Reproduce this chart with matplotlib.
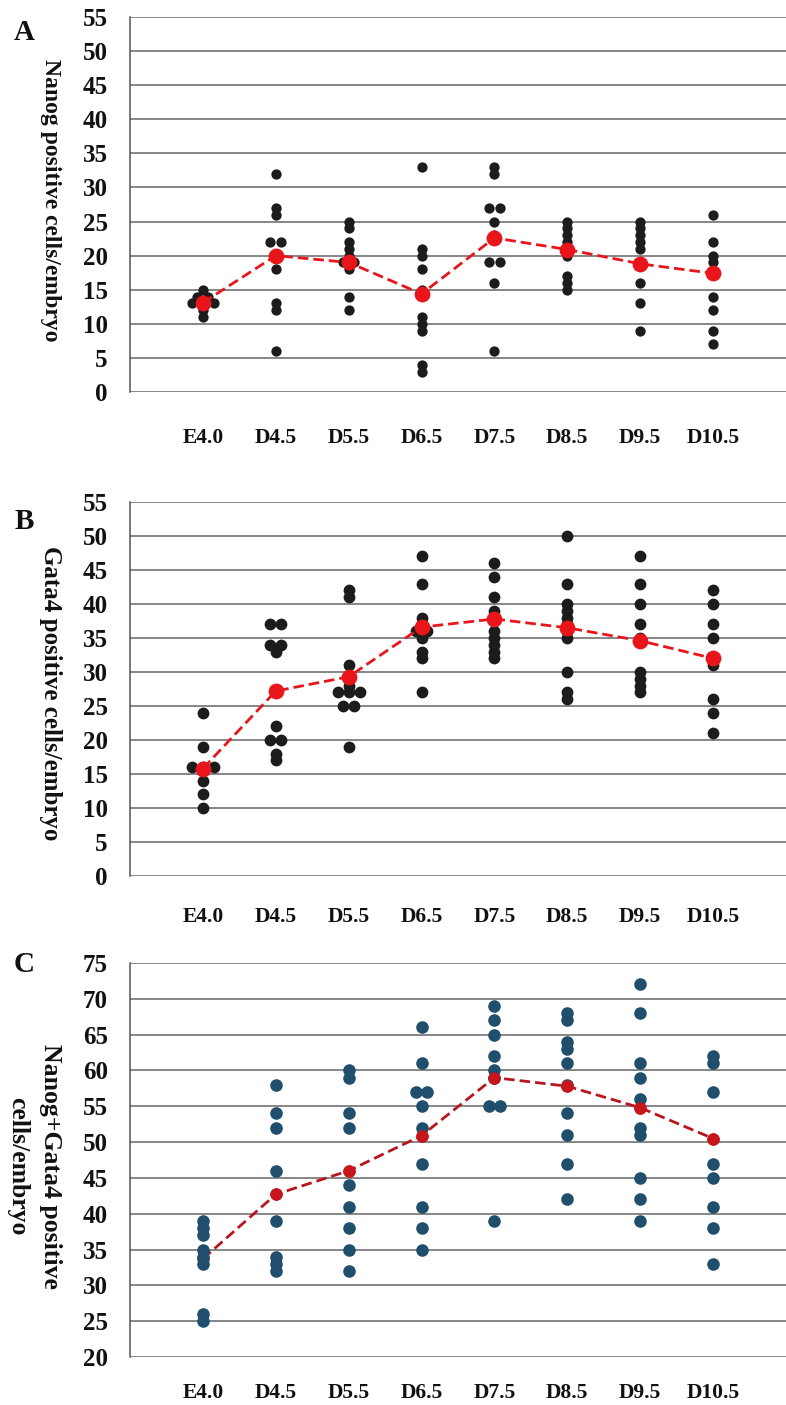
import matplotlib
matplotlib.use("Agg")
import matplotlib.pyplot as plt
from collections import Counter

categories = ["E4.0", "D4.5", "D5.5", "D6.5", "D7.5", "D8.5", "D9.5", "D10.5"]

nanog_values = [
    [15, 14, 14, 13, 13, 13, 12, 11],
    [32, 27, 26, 22, 22, 18, 13, 12, 6],
    [25, 24, 22, 21, 20, 19, 19, 18, 14, 12],
    [33, 21, 20, 18, 15, 11, 10, 9, 4, 3],
    [33, 32, 27, 27, 25, 23, 19, 19, 16, 6],
    [25, 24, 23, 22, 21, 20, 17, 16, 15],
    [25, 24, 23, 22, 21, 16, 13, 9],
    [26, 22, 20, 19, 14, 12, 9, 7],
]
nanog_means = [13.1, 20.0, 19.0, 14.4, 22.6, 20.9, 18.8, 17.4]

gata4_values = [
    [24, 19, 16, 16, 16, 14, 12, 10],
    [37, 37, 34, 34, 33, 22, 20, 20, 18, 17],
    [42, 41, 31, 28, 27, 27, 27, 25, 25, 19],
    [47, 43, 38, 37, 36, 36, 35, 33, 32, 27],
    [46, 44, 41, 39, 38, 36, 35, 34, 33, 32],
    [50, 43, 40, 39, 38, 37, 36, 35, 30, 27, 26],
    [47, 43, 40, 37, 35, 30, 29, 28, 27],
    [42, 40, 37, 35, 31, 26, 24, 21],
]
gata4_means = [15.8, 27.2, 29.3, 36.6, 37.8, 36.5, 34.6, 32.0]

total_values = [
    [39, 38, 37, 35, 34, 33, 26, 25],
    [58, 54, 52, 46, 39, 34, 33, 32],
    [60, 59, 54, 52, 44, 41, 38, 35, 32],
    [66, 61, 57, 57, 55, 52, 47, 41, 38, 35],
    [69, 67, 65, 62, 60, 59, 55, 55, 39],
    [68, 67, 64, 63, 61, 58, 54, 51, 47, 42],
    [72, 68, 61, 59, 56, 52, 51, 45, 42, 39],
    [62, 61, 57, 47, 45, 41, 38, 33],
]
total_means = [33.7, 42.7, 46.0, 50.9, 59.0, 57.8, 54.8, 50.5]

panel_letters = ["A", "B", "C"]
y_labels = ["Nanog positive cells/embryo",
            "Gata4 positive cells/embryo",
            "Nanog+Gata4 positive\ncells/embryo"]

W, H = 786, 1405
fig = plt.figure(figsize=(W / 100, H / 100), dpi=100)
SERIF = ["Liberation Serif", "DejaVu Serif"]
plt.rcParams["font.family"] = SERIF
plt.rcParams["font.weight"] = "bold"


def dodge(vals, step=0.15):
    counts = Counter(vals)
    seen = Counter()
    offs = []
    for v in vals:
        k = counts[v]
        j = seen[v]
        seen[v] += 1
        offs.append((j - (k - 1) / 2) * step)
    return offs


def px_axes(top, bottom):
    left = 130
    return [left / W, (H - bottom) / H, (W - left) / W, (bottom - top) / H]


specs = [
    dict(vals=nanog_values, means=nanog_means, top=17, bottom=392, ylim=(0, 55),
         dot="#1c1c1c", dot_s=55, mcol="#e8151b", lcol="#e8151b", m_s=130,
         pad=26, letter_y=33, label_y=200, label_x=50, label_fs=17, ls=1.25),
    dict(vals=gata4_values, means=gata4_means, top=502, bottom=876, ylim=(0, 55),
         dot="#1c1c1c", dot_s=72, mcol="#e8151b", lcol="#e8151b", m_s=130,
         pad=22, letter_y=521, label_y=693, label_x=50, label_fs=18, ls=1.25),
    dict(vals=total_values, means=total_means, top=963, bottom=1357, ylim=(20, 75),
         dot="#1f4f6d", dot_s=82, mcol="#c8151c", lcol="#b8161c", m_s=80,
         pad=19, letter_y=965, label_y=1166, label_x=34, label_fs=18.5, ls=1.5),
]

for i, sp in enumerate(specs):
    ax = fig.add_axes(px_axes(sp["top"], sp["bottom"]))
    xs_all, ys_all = [], []
    for ci, vals in enumerate(sp["vals"]):
        offs = dodge(vals)
        xs_all += [ci + o for o in offs]
        ys_all += vals
    xc = list(range(len(categories)))
    if i == 2:
        ax.plot(xc, sp["means"], color=sp["lcol"], lw=2.0,
                linestyle=(0, (3.8, 1.8)), zorder=2.5)
        ax.scatter(xc, sp["means"], s=sp["m_s"], color=sp["mcol"], zorder=2.6,
                   linewidths=0)
        ax.scatter(xs_all, ys_all, s=sp["dot_s"], color=sp["dot"], zorder=3,
                   linewidths=0)
        ax.scatter(xc[1:], sp["means"][1:], s=sp["m_s"], color=sp["mcol"],
                   zorder=5, linewidths=0)
    else:
        ax.scatter(xs_all, ys_all, s=sp["dot_s"], color=sp["dot"], zorder=3,
                   linewidths=0)
        ax.plot(xc, sp["means"], color=sp["lcol"], lw=2.0,
                linestyle=(0, (3.8, 1.8)), zorder=4)
        ax.scatter(xc, sp["means"], s=sp["m_s"], color=sp["mcol"], zorder=5,
                   linewidths=0)
    ax.set_xlim(-1, 8)
    ax.set_ylim(*sp["ylim"])
    ax.set_yticks(range(sp["ylim"][0], sp["ylim"][1] + 1, 5))
    ax.set_xticks(xc)
    ax.set_xticklabels(categories)
    ax.yaxis.grid(True, color="#666666", lw=1.1)
    ax.set_axisbelow(True)
    for s in ["top", "right", "bottom"]:
        ax.spines[s].set_visible(False)
    ax.spines["left"].set_color("#555555")
    ax.spines["left"].set_linewidth(1.1)
    ax.tick_params(axis="y", length=0, pad=16, labelsize=18)
    ax.tick_params(axis="x", length=0, pad=sp["pad"], labelsize=15.5)
    for t in ax.get_yticklabels() + ax.get_xticklabels():
        t.set_fontweight("bold")
        t.set_color("#111111")
    fig.text(24 / W, 1 - sp["letter_y"] / H, panel_letters[i], fontsize=21,
             fontweight="bold", ha="center", va="center", color="#111111")
    fig.text(sp["label_x"] / W, 1 - sp["label_y"] / H, y_labels[i],
             rotation=-90, fontsize=sp["label_fs"], fontweight="bold",
             ha="center", va="center", color="#111111",
             multialignment="center", linespacing=sp["ls"])

fig.savefig("out.png", dpi=100, facecolor="white")
